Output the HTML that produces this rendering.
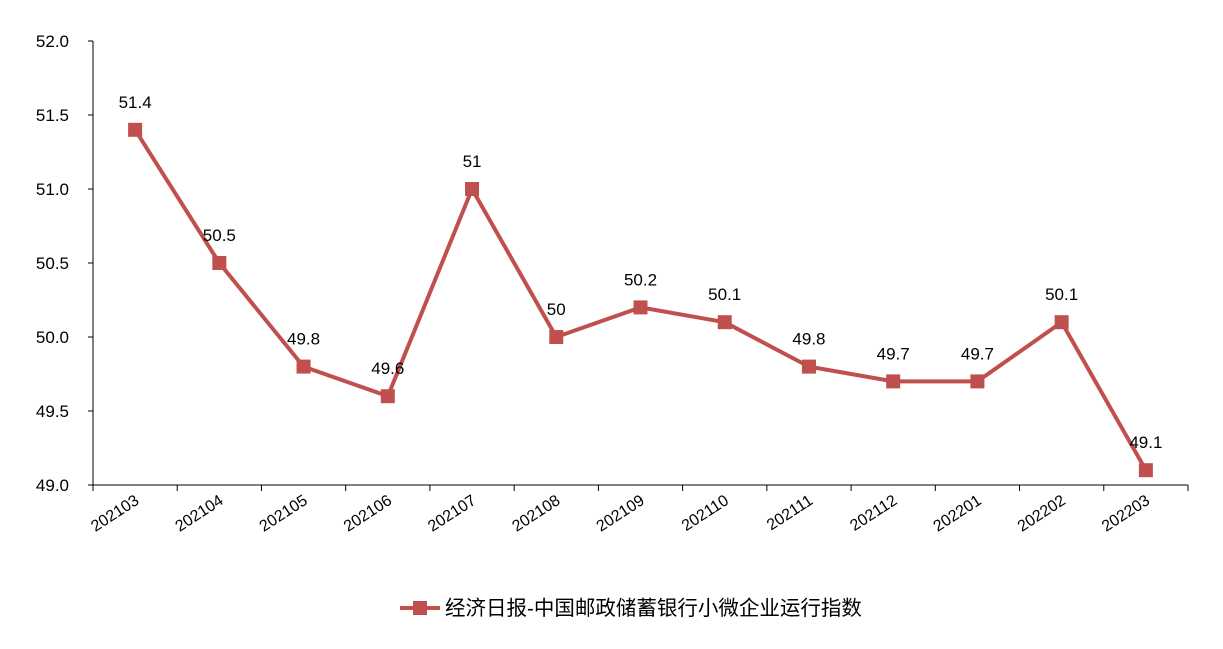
<!DOCTYPE html>
<html><head><meta charset="utf-8">
<style>
body{margin:0;background:#fff;font-family:"Liberation Sans","Noto Sans CJK SC",sans-serif;}
svg text{font-family:"Liberation Sans","Noto Sans CJK SC",sans-serif;fill:#000;}
</style></head>
<body>
<svg id="chart" width="1223" height="644" xmlns="http://www.w3.org/2000/svg">
<g id="axes"></g>
<g id="series"></g>
<g>
<line x1="400" y1="608" x2="440" y2="608" stroke="#C0504D" stroke-width="4"/>
<rect x="413" y="601" width="14" height="14" fill="#C0504D"/>
<text x="445" y="615" font-size="20.5">经济日报-中国邮政储蓄银行小微企业运行指数</text>
</g>
</svg>
<script>
const categories=["202103","202104","202105","202106","202107","202108","202109","202110","202111","202112","202201","202202","202203"];
const values=[51.4,50.5,49.8,49.6,51,50,50.2,50.1,49.8,49.7,49.7,50.1,49.1];
const yTicks=[49.0,49.5,50.0,50.5,51.0,51.5,52.0];
const NS="http://www.w3.org/2000/svg";
const L=93,R=1188,T=41,B=485,yMin=49,yMax=52;
const y=v=>B-(v-yMin)/(yMax-yMin)*(B-T);
const bw=(R-L)/categories.length;
const x=i=>L+bw*(i+0.5);
function mk(tag,attrs,parent){const e=document.createElementNS(NS,tag);for(const k in attrs)e.setAttribute(k,attrs[k]);parent.appendChild(e);return e;}
const ax=document.getElementById('axes'),se=document.getElementById('series');
let a=mk('line',{x1:L,y1:T,x2:L,y2:B,stroke:'#000','stroke-width':1},ax);


a=mk('line',{x1:L,y1:B,x2:R,y2:B,stroke:'#000','stroke-width':1},ax);


yTicks.forEach(t=>{
 mk('line',{x1:L-5,y1:y(t),x2:L,y2:y(t),stroke:'#000'},ax);
 const tx=mk('text',{x:L-24,y:y(t)+6,'font-size':17,'text-anchor':'end'},ax);
 tx.textContent=t.toFixed(1);
 
 
});
for(let i=0;i<=categories.length;i++){mk('line',{x1:L+bw*i,y1:B,x2:L+bw*i,y2:B+6,stroke:'#000'},ax);}
categories.forEach((c,i)=>{
 const px=x(i)+5,py=B+18;
 const tx=mk('text',{x:px,y:py,'font-size':16,'text-anchor':'end',transform:`rotate(-33 ${px} ${py})`},ax);
 tx.textContent=c;
 
 
});
const pl=mk('polyline',{points:values.map((v,i)=>x(i)+','+y(v)).join(' '),fill:'none',stroke:'#C0504D','stroke-width':4,'stroke-linejoin':'round'},se);


values.forEach((v,i)=>{
 const r=mk('rect',{x:x(i)-7,y:y(v)-7,width:14,height:14,fill:'#C0504D'},se);
 
 
 const t=mk('text',{x:x(i),y:y(v)-22,'font-size':17,'text-anchor':'middle'},se);
 t.textContent=String(v);
 
 
});
</script>
</body></html>
